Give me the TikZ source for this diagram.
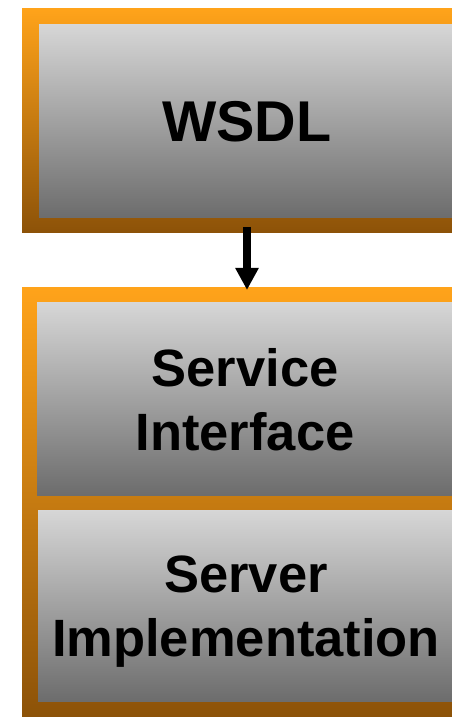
\documentclass[tikz,border=0pt]{standalone}
\usepackage{fontspec}
\setmainfont{Liberation Sans}
\usetikzlibrary{arrows.meta}
\definecolor{frametop}{RGB}{255,163,26}
\definecolor{framebottom}{RGB}{140,82,8}
\definecolor{paneltop}{RGB}{214,214,214}
\definecolor{panelbottom}{RGB}{108,108,108}
\tikzset{
    stackframe/.style={anchor=north west, inner sep=0pt, outer sep=0pt, top color=frametop, bottom color=framebottom, minimum width=450pt},
    stackpanel/.style={anchor=north west, inner sep=0pt, outer sep=0pt, top color=paneltop, bottom color=panelbottom, align=center, minimum width=416pt, font=\bfseries\fontsize{52.5}{64}\selectfont},
    stackarrow/.style={-{Triangle[width=22pt, length=22pt]}, line width=8pt}
}
\begin{document}
\begin{tikzpicture}[x=1pt, y=1pt]
    \useasboundingbox (0,0) rectangle (452,717);
    \clip (0,0) rectangle (452,717);
    % upper block
    \node[stackframe, minimum height=224pt] (wsdlframe) at (22,708) {};
    \node[stackpanel, minimum height=193pt, font=\bfseries\fontsize{57.5}{64}\selectfont] (wsdl) at (39,692) {WSDL};
    % lower block with two layers
    \node[stackframe, minimum height=429pt] (serverframe) at (22,429) {};
    \node[stackpanel, minimum height=193pt] (iface) at (37,414) {Service\\Interface};
    \node[stackpanel, minimum height=191pt,
        label={[align=center, font=\bfseries\fontsize{52.5}{64}\selectfont, yshift=-5pt]center:Server\\Implementation}] (impl) at (38,206) {};
    \draw[stackarrow, shorten >=-2pt] ([yshift=6pt]wsdlframe.south) -- (serverframe.north);
\end{tikzpicture}
\end{document}
